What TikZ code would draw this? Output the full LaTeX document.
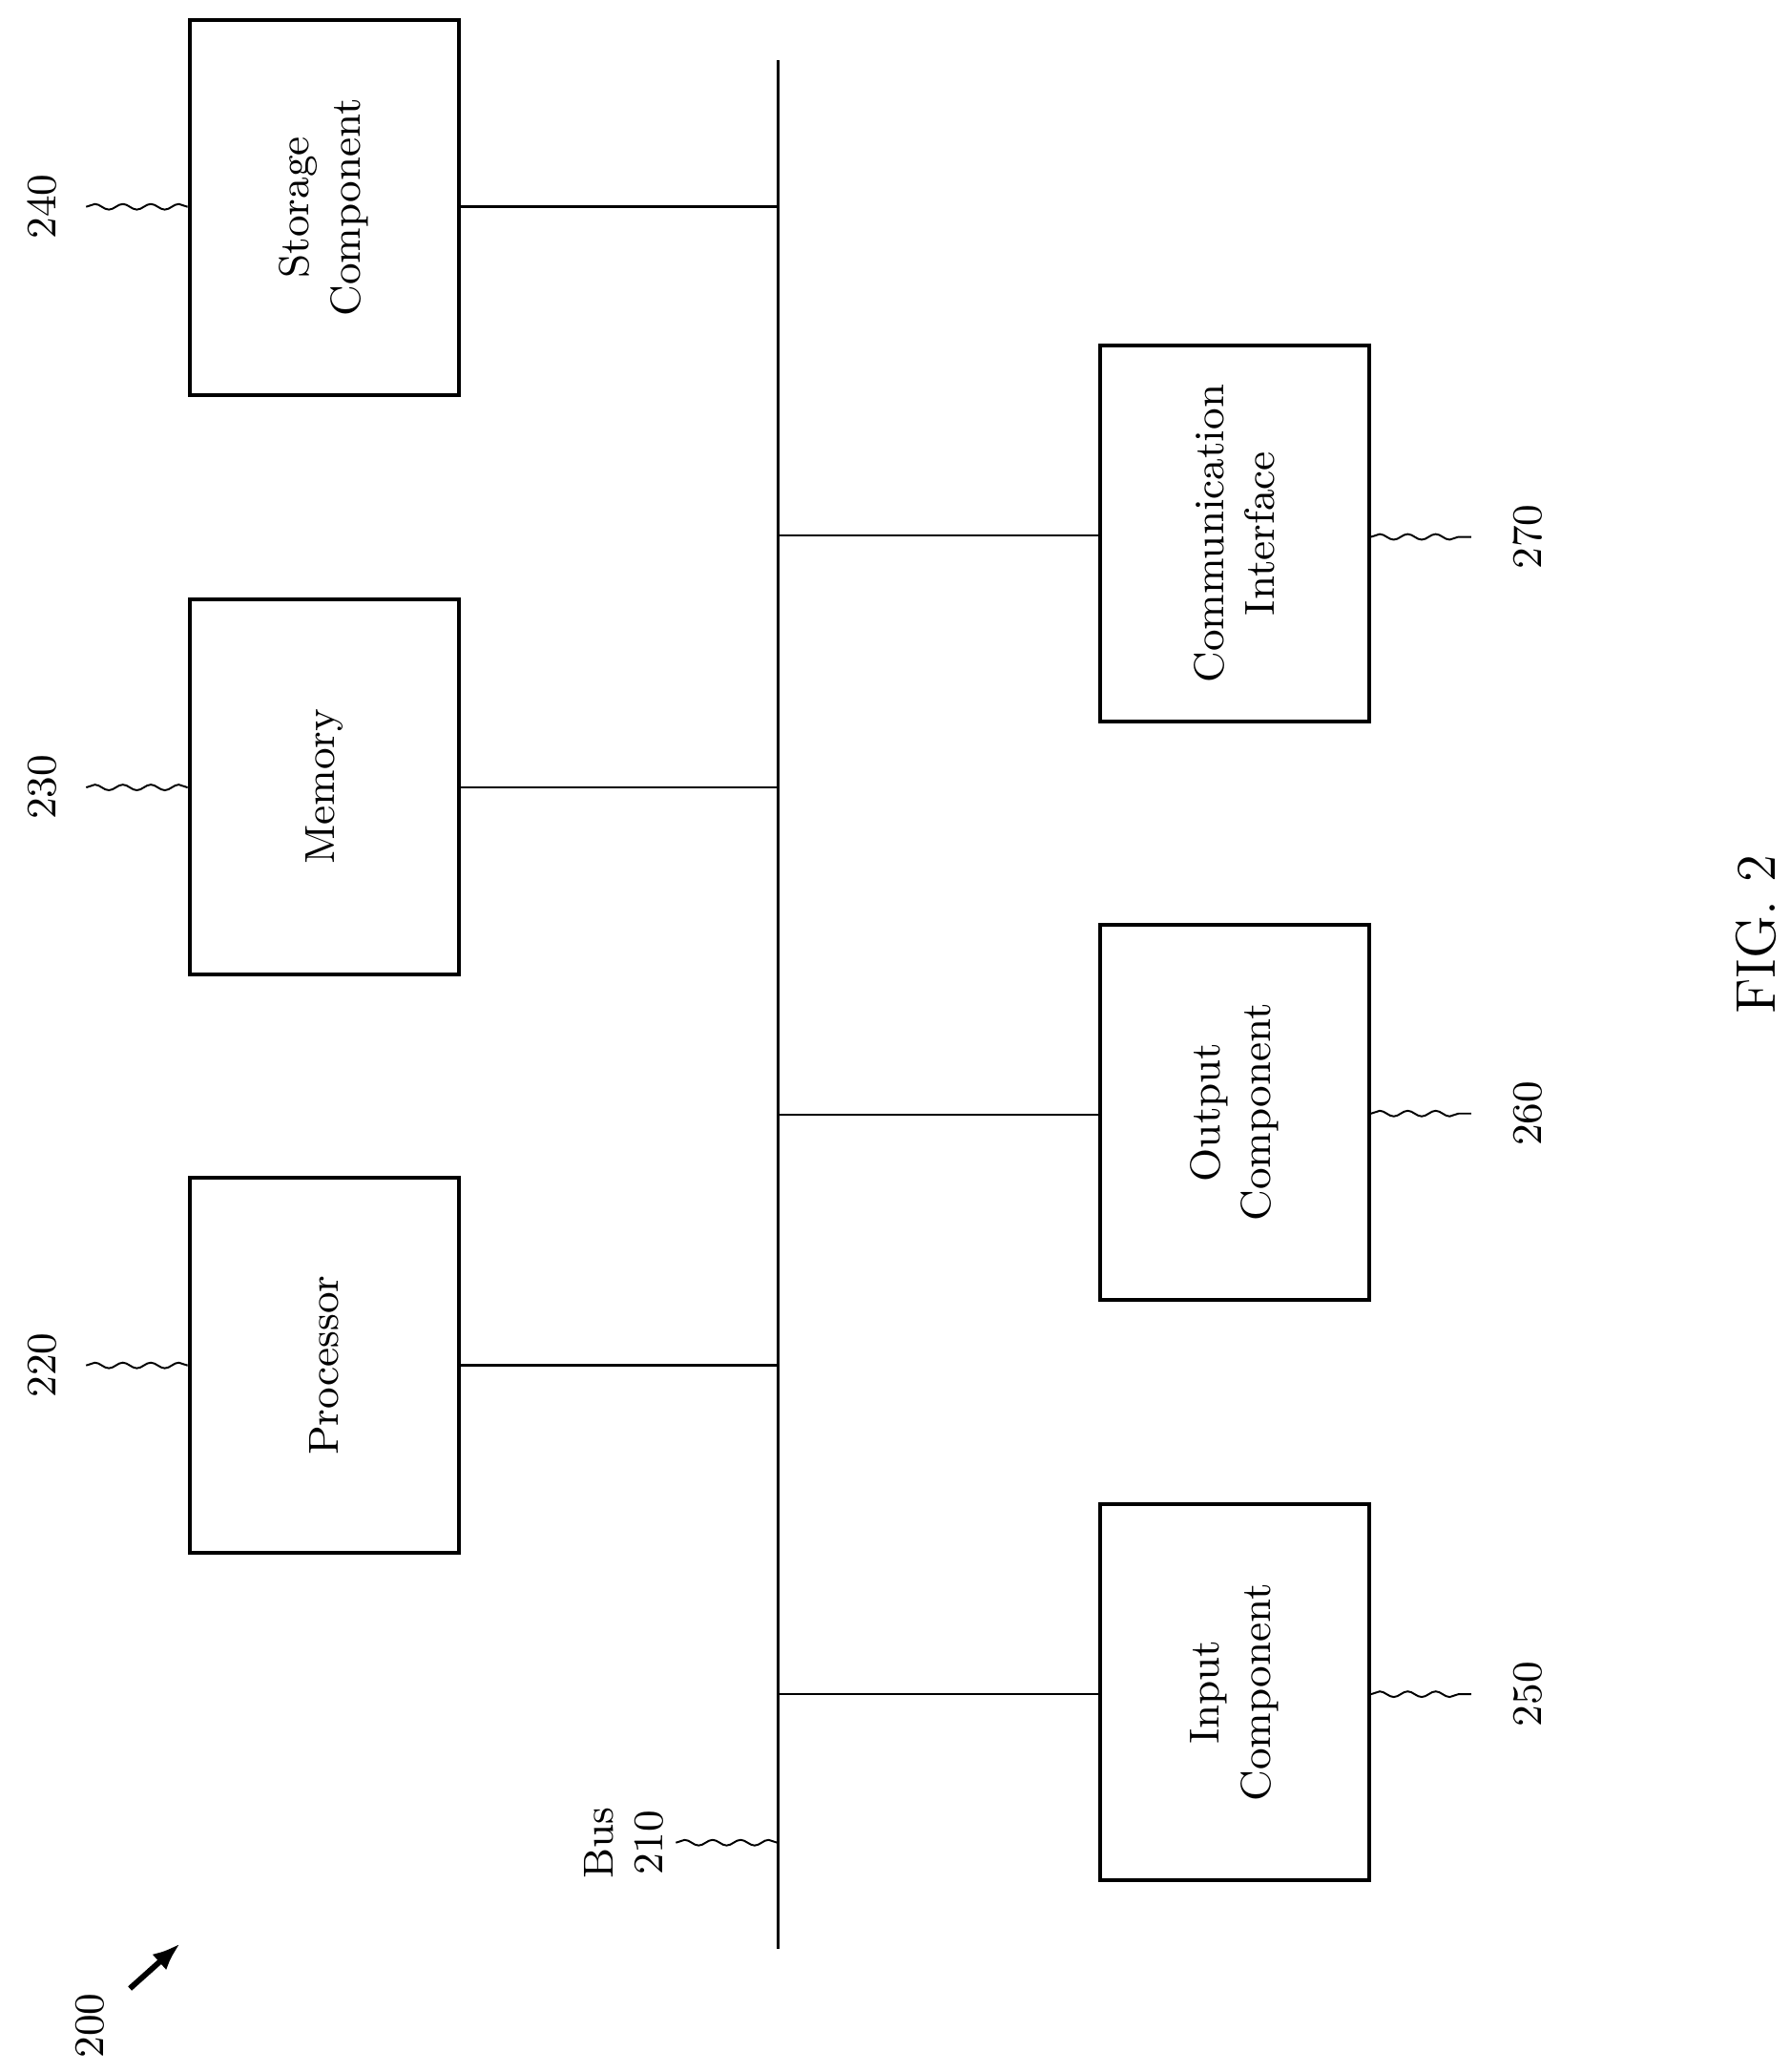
\documentclass[tikz,border=0pt]{standalone}
\usetikzlibrary{decorations.pathmorphing,arrows.meta}
\begin{document}
\begin{tikzpicture}[x={(0.01cm,0)},y={(0,-0.01cm)},
 box/.style={draw,line width=0.8pt,minimum width=2.03cm,minimum height=2.83cm,inner sep=0pt},
 lbl/.style={rotate=90,font=\fontsize{9}{11}\selectfont,align=center},
 num/.style={rotate=90,font=\fontsize{9}{11}\selectfont},
 sq/.style={decorate,decoration={snake,amplitude=0.6pt,segment length=6pt},line width=0.4pt},
 ln/.style={line width=0.5pt}]
\useasboundingbox (0,0) rectangle (1350,1563);
\node[box] (s) at (244.5,156.5) {}; \node[lbl] at (s) {Storage\\Component};
\node[box] (m) at (244.5,593.5) {}; \node[lbl] at (m) {Memory};
\node[box] (p) at (244.5,1030) {}; \node[lbl] at (p) {Processor};
\node[box] (c) at (931.5,402.5) {}; \node[lbl] at (c) {Communication\\Interface};
\node[box] (o) at (931.5,839) {}; \node[lbl] at (o) {Output\\Component};
\node[box] (i) at (931.5,1276.5) {}; \node[lbl] at (i) {Input\\Component};
\coordinate (bt) at (587,45); \coordinate (bb) at (587,1470);
\draw[ln] (bt) -- (bb);
\foreach \n/\y in {s/156,m/594,p/1030}{\draw[ln] (\n.east |- 0,\y) -- (587,\y);}
\foreach \n/\y in {c/404,o/841,i/1278}{\draw[ln] (587,\y) -- (\n.west |- 0,\y);}
\foreach \n/\y/\t in {s/156/240,m/594/230,p/1030/220}{
 \node[num] (l\t) at (32,\y) {\t};
 \draw[sq] (65,\y) -- (\n.west |- 0,\y);}
\foreach \n/\y/\t in {c/405/270,o/840/260,i/1278/250}{
 \node[num] (l\t) at (1153,\y) {\t};
 \draw[sq] (\n.east |- 0,\y) -- (1110,\y);}
\node[num] (bus) at (452,1390) {Bus};
\node[num] (b210) at (490,1390) {210};
\coordinate (bs) at (510,1390);
\draw[sq] (bs) -- (587,1390);
\node[num] (n200) at (68,1528) {200};
\coordinate (a1) at (98,1500); \coordinate (a2) at (136,1466);
\draw[line width=1.2pt,-{Latex[length=6pt]}] (a1) -- (a2);
\node[rotate=90,font=\fontsize{12}{14}\selectfont] (fig) at (1325,705) {FIG. 2};
\end{tikzpicture}
\end{document}
